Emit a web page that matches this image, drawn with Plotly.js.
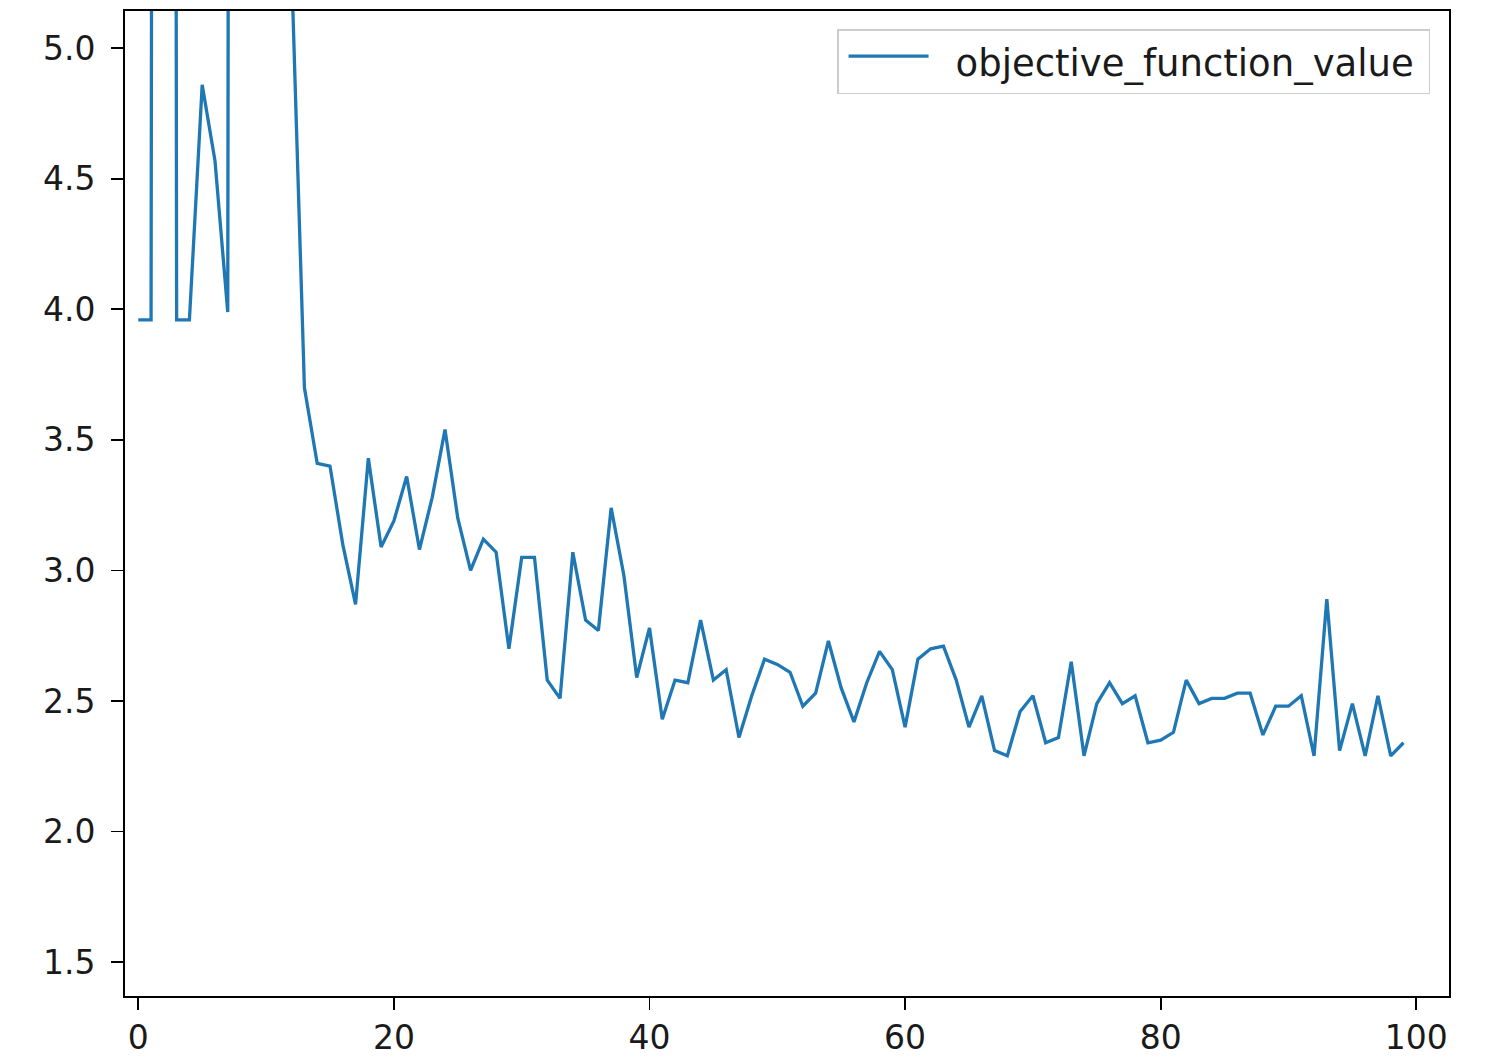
<!DOCTYPE html>
<html>
<head>
<meta charset="utf-8">
<script src="https://cdn.plot.ly/plotly-3.0.1.min.js"></script>
<style>html,body{margin:0;padding:0;background:#fff;}#chart{width:1506px;height:1057px;}</style>
</head>
<body>
<div id="chart"></div>
<script>
// iteration index
const iterations = Array.from({length: 100}, (_, i) => i);
// objective function value per iteration (points 2, 8-11 lie far above the visible range)
const objectiveValues = [
  3.96, 3.96, 40.0, 3.96, 3.96, 4.86, 4.57, 3.99, 40.0, 35.0,
  30.0, 25.0, 5.30, 3.70, 3.41, 3.40, 3.10, 2.87, 3.43, 3.09,
  3.19, 3.36, 3.08, 3.28, 3.54, 3.20, 3.00, 3.12, 3.07, 2.70,
  3.05, 3.05, 2.58, 2.51, 3.07, 2.81, 2.77, 3.24, 2.98, 2.59,
  2.78, 2.43, 2.58, 2.57, 2.81, 2.58, 2.62, 2.36, 2.52, 2.66,
  2.64, 2.61, 2.48, 2.53, 2.73, 2.55, 2.42, 2.57, 2.69, 2.62,
  2.40, 2.66, 2.70, 2.71, 2.58, 2.40, 2.52, 2.31, 2.29, 2.46,
  2.52, 2.34, 2.36, 2.65, 2.29, 2.49, 2.57, 2.49, 2.52, 2.34,
  2.35, 2.38, 2.58, 2.49, 2.51, 2.51, 2.53, 2.53, 2.37, 2.48,
  2.48, 2.52, 2.29, 2.89, 2.31, 2.49, 2.29, 2.52, 2.29, 2.34
];
const seriesName = 'objective_function_value';
const yTicks = [1.5, 2.0, 2.5, 3.0, 3.5, 4.0, 4.5, 5.0];
const xTicks = [0, 20, 40, 60, 80, 100];

const font = {family: 'DejaVu Sans, sans-serif', size: 33, color: '#1a1a1a'};

const trace = {
  x: iterations,
  y: objectiveValues,
  type: 'scatter',
  mode: 'lines',
  name: seriesName,
  line: {color: '#1f77b4', width: 3.3},
  showlegend: true
};

const layout = {
  width: 1506,
  height: 1057,
  margin: {l: 125, r: 57, t: 11, b: 61, pad: 0},
  paper_bgcolor: '#fff',
  plot_bgcolor: '#fff',
  font: font,
  showlegend: true,
  xaxis: {
    range: [-1.04, 102.56],
    tickmode: 'array',
    tickvals: xTicks,
    ticktext: xTicks.map(String),
    showgrid: false,
    zeroline: false,
    showline: true,
    mirror: true,
    linecolor: '#000',
    linewidth: 1.8,
    ticks: 'outside',
    ticklen: 12,
    tickwidth: 1.8,
    tickcolor: '#000',
    tickfont: font
  },
  yaxis: {
    range: [1.370, 5.143],
    tickmode: 'array',
    tickvals: yTicks,
    ticktext: yTicks.map(v => v.toFixed(1)),
    showgrid: false,
    zeroline: false,
    showline: true,
    mirror: true,
    linecolor: '#000',
    linewidth: 1.8,
    ticks: 'outside',
    ticklen: 12,
    tickwidth: 1.8,
    tickcolor: '#000',
    tickfont: font,
    ticklabelstandoff: 9
  },
  legend: {
    orientation: 'h',
    x: 0.9857,
    y: 0.9817,
    xanchor: 'right',
    yanchor: 'top',
    bgcolor: 'rgba(255,255,255,0.8)',
    bordercolor: '#cccccc',
    borderwidth: 1.5,
    font: {family: 'DejaVu Sans, sans-serif', size: 37, color: '#1a1a1a'},
    itemwidth: 107,
    entrywidth: 468,
    entrywidthmode: 'pixels'
  }
};

Plotly.newPlot('chart', [trace], layout, {staticPlot: true, displayModeBar: false}).then(function (gd) {
  // match the legend sample line length of the reference (80 px, starting 10 px in)
  gd.querySelectorAll('.legend .legendlines path').forEach(function (p) {
    p.setAttribute('d', 'M10,-5h80');
  });
});
</script>
</body>
</html>
